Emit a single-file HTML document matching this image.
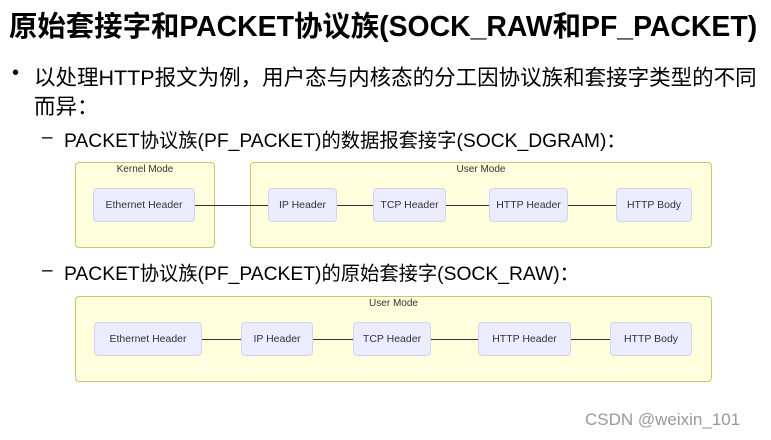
<!DOCTYPE html>
<html><head><meta charset="utf-8"><style>
body{margin:0;width:771px;height:440px;background:#fff;position:relative;overflow:hidden;font-family:"Liberation Sans","Noto Sans CJK SC",sans-serif;color:#000}
.t{position:absolute;white-space:nowrap}
.box{position:absolute;background:#ffffde;border:1px solid #c9c96a;border-radius:4px;box-sizing:border-box}
.lbl{position:absolute;font-size:10px;color:#333;text-align:center;white-space:nowrap}
.n{position:absolute;background:#ececff;border:1px solid #d3d3f5;border-radius:4px;box-sizing:border-box;font-size:10.5px;color:#333;display:flex;align-items:center;justify-content:center;white-space:nowrap}
.ln{position:absolute;height:1px;background:#333}
</style></head><body>
<div class="t" style="left:9px;top:4px;font-size:28.4px;font-weight:bold">原始套接字和PACKET协议族(SOCK_RAW和PF_PACKET)</div>
<div class="t" style="left:12px;top:62px;font-size:20px">•</div>
<div class="t" style="left:34px;top:61px;font-size:21.5px">以处理HTTP报文为例，用户态与内核态的分工因协议族和套接字类型的不同</div>
<div class="t" style="left:34px;top:90px;font-size:21.5px">而异：</div>
<div class="t" style="left:42px;top:127px;font-size:19px">–</div>
<div class="t" style="left:64px;top:125px;font-size:19.3px">PACKET协议族(PF_PACKET)的数据报套接字(SOCK_DGRAM)：</div>
<div class="t" style="left:42px;top:260px;font-size:19px">–</div>
<div class="t" style="left:64px;top:258px;font-size:19.3px">PACKET协议族(PF_PACKET)的原始套接字(SOCK_RAW)：</div>

<div class="box" style="left:75px;top:162px;width:140px;height:86px"></div>
<div class="lbl" style="left:75px;top:164px;width:140px">Kernel Mode</div>
<div class="box" style="left:250px;top:162px;width:462px;height:86px"></div>
<div class="lbl" style="left:250px;top:164px;width:462px">User Mode</div>
<div class="ln" style="left:195px;top:205px;width:73px"></div>
<div class="ln" style="left:337px;top:205px;width:36px"></div>
<div class="ln" style="left:446px;top:205px;width:43px"></div>
<div class="ln" style="left:568px;top:205px;width:48px"></div>
<div class="n" style="left:93px;top:188px;width:102px;height:34px">Ethernet Header</div>
<div class="n" style="left:268px;top:188px;width:69px;height:34px">IP Header</div>
<div class="n" style="left:373px;top:188px;width:73px;height:34px">TCP Header</div>
<div class="n" style="left:489px;top:188px;width:79px;height:34px">HTTP Header</div>
<div class="n" style="left:616px;top:188px;width:76px;height:34px">HTTP Body</div>

<div class="box" style="left:75px;top:296px;width:637px;height:86px"></div>
<div class="lbl" style="left:75px;top:298px;width:637px">User Mode</div>
<div class="ln" style="left:202px;top:339px;width:39px"></div>
<div class="ln" style="left:313px;top:339px;width:40px"></div>
<div class="ln" style="left:431px;top:339px;width:47px"></div>
<div class="ln" style="left:571px;top:339px;width:39px"></div>
<div class="n" style="left:94px;top:322px;width:108px;height:34px">Ethernet Header</div>
<div class="n" style="left:241px;top:322px;width:72px;height:34px">IP Header</div>
<div class="n" style="left:353px;top:322px;width:78px;height:34px">TCP Header</div>
<div class="n" style="left:478px;top:322px;width:93px;height:34px">HTTP Header</div>
<div class="n" style="left:610px;top:322px;width:82px;height:34px">HTTP Body</div>

<div class="t" style="left:585px;top:410px;font-size:17px;color:#999">CSDN @weixin_101</div>
</body></html>
